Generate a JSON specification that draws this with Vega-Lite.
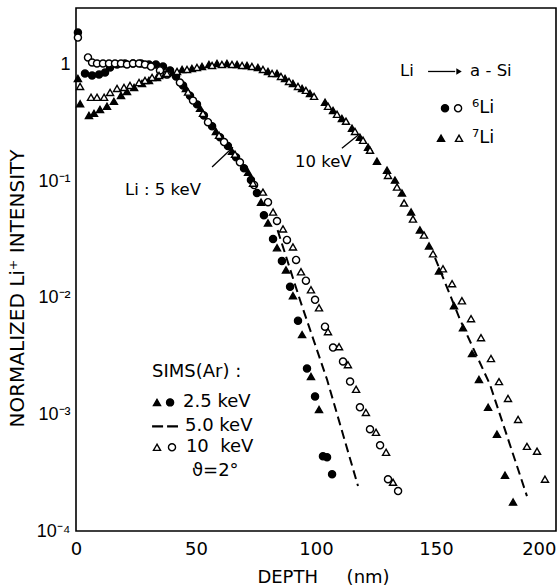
{
"$schema": "https://vega.github.io/schema/vega-lite/v6.json",
"width": 480, "height": 523,
"autosize": {"type": "none"},
"padding": {"left": 76, "top": 8, "right": 4, "bottom": 57},
"background": "white",
"config": {
 "view": {"stroke": "black", "strokeWidth": 1.6},
 "font": "DejaVu Sans",
 "axis": {"domain": false, "ticks": false, "labelColor": "black", "titleColor": "black", "grid": false, "labelFont": "DejaVu Sans", "titleFont": "DejaVu Sans", "titleFontWeight": "normal"}
},
"datasets": {
 "pts": [
  {"depth":0.8,"intensity":1.88,"marker":"fc"},{"depth":3.75,"intensity":0.838,"marker":"fc"},{"depth":6.7,"intensity":0.805,"marker":"fc"},{"depth":9.6,"intensity":0.822,"marker":"fc"},{"depth":12.1,"intensity":0.855,"marker":"fc"},{"depth":14.2,"intensity":0.942,"marker":"fc"},{"depth":17.1,"intensity":1.0,"marker":"fc"},{"depth":20.4,"intensity":1.02,"marker":"fc"},{"depth":23.75,"intensity":1.02,"marker":"fc"},{"depth":27.1,"intensity":1.02,"marker":"fc"},{"depth":30.4,"intensity":1.0,"marker":"fc"},{"depth":33.3,"intensity":1.0,"marker":"fc"},{"depth":36.25,"intensity":0.96,"marker":"fc"},{"depth":39.2,"intensity":0.89,"marker":"fc"},{"depth":41.7,"intensity":0.79,"marker":"fc"},{"depth":44.6,"intensity":0.66,"marker":"fc"},{"depth":47.5,"intensity":0.54,"marker":"fc"},{"depth":50.4,"intensity":0.455,"marker":"fc"},{"depth":53.3,"intensity":0.366,"marker":"fc"},{"depth":56.7,"intensity":0.295,"marker":"fc"},{"depth":60,"intensity":0.238,"marker":"fc"},{"depth":63.3,"intensity":0.2,"marker":"fc"},{"depth":66.7,"intensity":0.16,"marker":"fc"},{"depth":70,"intensity":0.129,"marker":"fc"},{"depth":72.9,"intensity":0.102,"marker":"fc"},{"depth":75.4,"intensity":0.079,"marker":"fc"},{"depth":78.3,"intensity":0.051,"marker":"fc"},{"depth":82.1,"intensity":0.0319,"marker":"fc"},{"depth":85.8,"intensity":0.0207,"marker":"fc"},{"depth":89.2,"intensity":0.0124,"marker":"fc"},{"depth":92.5,"intensity":0.00636,"marker":"fc"},{"depth":96.25,"intensity":0.00247,"marker":"fc"},{"depth":99.6,"intensity":0.001426,"marker":"fc"},{"depth":102.9,"intensity":0.000437,"marker":"fc"},{"depth":104.6,"intensity":0.000429,"marker":"fc"},{"depth":106.7,"intensity":0.000307,"marker":"fc"},
  {"depth":0.8,"intensity":0.76,"marker":"ft"},{"depth":45.8,"intensity":0.624,"marker":"ft"},{"depth":51.7,"intensity":0.421,"marker":"ft"},{"depth":58.3,"intensity":0.267,"marker":"ft"},{"depth":65,"intensity":0.18,"marker":"ft"},{"depth":71.7,"intensity":0.119,"marker":"ft"},{"depth":77.1,"intensity":0.066,"marker":"ft"},{"depth":80,"intensity":0.0438,"marker":"ft"},{"depth":83.75,"intensity":0.0268,"marker":"ft"},{"depth":87.5,"intensity":0.0173,"marker":"ft"},{"depth":90.4,"intensity":0.0104,"marker":"ft"},{"depth":94.2,"intensity":0.00483,"marker":"ft"},{"depth":97.9,"intensity":0.00211,"marker":"ft"},{"depth":101.25,"intensity":0.0011,"marker":"ft"},
  {"depth":1.7,"intensity":0.46,"marker":"ft"},{"depth":5.4,"intensity":0.366,"marker":"ft"},{"depth":7.5,"intensity":0.381,"marker":"ft"},{"depth":10,"intensity":0.412,"marker":"ft"},{"depth":12.9,"intensity":0.438,"marker":"ft"},{"depth":15.8,"intensity":0.483,"marker":"ft"},{"depth":18.75,"intensity":0.543,"marker":"ft"},{"depth":21.25,"intensity":0.588,"marker":"ft"},{"depth":24.2,"intensity":0.636,"marker":"ft"},{"depth":27.5,"intensity":0.688,"marker":"ft"},{"depth":30.4,"intensity":0.73,"marker":"ft"},{"depth":33.75,"intensity":0.774,"marker":"ft"},{"depth":37.1,"intensity":0.821,"marker":"ft"},{"depth":40,"intensity":0.855,"marker":"ft"},{"depth":44.2,"intensity":0.906,"marker":"ft"},{"depth":48.3,"intensity":0.924,"marker":"ft"},{"depth":52.5,"intensity":0.961,"marker":"ft"},{"depth":55.4,"intensity":1.0,"marker":"ft"},{"depth":58.75,"intensity":1.02,"marker":"ft"},{"depth":62.9,"intensity":1.02,"marker":"ft"},{"depth":67.1,"intensity":1.0,"marker":"ft"},{"depth":71.25,"intensity":0.98,"marker":"ft"},{"depth":75.8,"intensity":0.943,"marker":"ft"},{"depth":80,"intensity":0.871,"marker":"ft"},{"depth":83.75,"intensity":0.838,"marker":"ft"},{"depth":87.1,"intensity":0.76,"marker":"ft"},{"depth":90.4,"intensity":0.688,"marker":"ft"},{"depth":94.2,"intensity":0.624,"marker":"ft"},{"depth":97.5,"intensity":0.565,"marker":"ft"},{"depth":103.75,"intensity":0.474,"marker":"ft"},{"depth":107.1,"intensity":0.404,"marker":"ft"},{"depth":110.8,"intensity":0.345,"marker":"ft"},{"depth":115,"intensity":0.284,"marker":"ft"},{"depth":118.3,"intensity":0.238,"marker":"ft"},{"depth":121.7,"intensity":0.195,"marker":"ft"},{"depth":125.4,"intensity":0.148,"marker":"ft"},{"depth":129.6,"intensity":0.124,"marker":"ft"},{"depth":132.9,"intensity":0.102,"marker":"ft"},{"depth":135.8,"intensity":0.079,"marker":"ft"},{"depth":139.6,"intensity":0.0543,"marker":"ft"},{"depth":143.3,"intensity":0.0381,"marker":"ft"},{"depth":147.1,"intensity":0.0278,"marker":"ft"},{"depth":151.25,"intensity":0.017,"marker":"ft"},{"depth":157.5,"intensity":0.00855,"marker":"ft"},{"depth":161.25,"intensity":0.00554,"marker":"ft"},{"depth":165,"intensity":0.00332,"marker":"ft"},{"depth":167.9,"intensity":0.00199,"marker":"ft"},{"depth":171.7,"intensity":0.00115,"marker":"ft"},{"depth":175.4,"intensity":0.000675,"marker":"ft"},{"depth":178.75,"intensity":0.000301,"marker":"ft"},{"depth":182.1,"intensity":0.000177,"marker":"ft"},
  {"depth":0.8,"intensity":1.7,"marker":"oc"},{"depth":5,"intensity":1.15,"marker":"oc"},{"depth":6.7,"intensity":1.04,"marker":"oc"},{"depth":8.75,"intensity":1.02,"marker":"oc"},{"depth":11.25,"intensity":1.02,"marker":"oc"},{"depth":13.75,"intensity":1.02,"marker":"oc"},{"depth":16.25,"intensity":1.02,"marker":"oc"},{"depth":18.75,"intensity":1.02,"marker":"oc"},{"depth":21.25,"intensity":1.0,"marker":"oc"},{"depth":23.75,"intensity":1.02,"marker":"oc"},{"depth":26.25,"intensity":1.02,"marker":"oc"},{"depth":28.75,"intensity":1.0,"marker":"oc"},{"depth":31.25,"intensity":0.96,"marker":"oc"},{"depth":35,"intensity":0.89,"marker":"oc"},{"depth":37.9,"intensity":0.82,"marker":"oc"},{"depth":43.3,"intensity":0.7,"marker":"oc"},{"depth":48.75,"intensity":0.49,"marker":"oc"},{"depth":55,"intensity":0.32,"marker":"oc"},{"depth":61.7,"intensity":0.216,"marker":"oc"},{"depth":68.3,"intensity":0.145,"marker":"oc"},{"depth":74.2,"intensity":0.0925,"marker":"oc"},{"depth":80,"intensity":0.066,"marker":"oc"},{"depth":83.75,"intensity":0.0455,"marker":"oc"},{"depth":87.9,"intensity":0.0313,"marker":"oc"},{"depth":91.7,"intensity":0.0211,"marker":"oc"},{"depth":95.8,"intensity":0.014,"marker":"oc"},{"depth":99.6,"intensity":0.0096,"marker":"oc"},{"depth":103.75,"intensity":0.00565,"marker":"oc"},{"depth":107.1,"intensity":0.00374,"marker":"oc"},{"depth":111.25,"intensity":0.00284,"marker":"oc"},{"depth":114.2,"intensity":0.00191,"marker":"oc"},{"depth":118.3,"intensity":0.00115,"marker":"oc"},{"depth":122.5,"intensity":0.000745,"marker":"oc"},{"depth":126.7,"intensity":0.000543,"marker":"oc"},{"depth":130,"intensity":0.000278,"marker":"oc"},{"depth":134.2,"intensity":0.00022,"marker":"oc"},
  {"depth":46.7,"intensity":0.58,"marker":"ot"},{"depth":52.9,"intensity":0.381,"marker":"ot"},{"depth":59.6,"intensity":0.247,"marker":"ot"},{"depth":66.25,"intensity":0.17,"marker":"ot"},{"depth":73.75,"intensity":0.096,"marker":"ot"},{"depth":77.9,"intensity":0.0805,"marker":"ot"},{"depth":82.1,"intensity":0.0543,"marker":"ot"},{"depth":86.25,"intensity":0.0389,"marker":"ot"},{"depth":90.4,"intensity":0.0273,"marker":"ot"},{"depth":93.75,"intensity":0.0167,"marker":"ot"},{"depth":97.9,"intensity":0.0117,"marker":"ot"},{"depth":101.25,"intensity":0.0082,"marker":"ot"},{"depth":105,"intensity":0.00512,"marker":"ot"},{"depth":109.6,"intensity":0.00381,"marker":"ot"},{"depth":113.3,"intensity":0.00267,"marker":"ot"},{"depth":116.7,"intensity":0.00164,"marker":"ot"},{"depth":120.8,"intensity":0.00104,"marker":"ot"},{"depth":125,"intensity":0.000702,"marker":"ot"},{"depth":129.2,"intensity":0.000473,"marker":"ot"},{"depth":132.1,"intensity":0.000262,"marker":"ot"},
  {"depth":1.7,"intensity":0.649,"marker":"ot"},{"depth":6.25,"intensity":0.523,"marker":"ot"},{"depth":8.75,"intensity":0.523,"marker":"ot"},{"depth":11.7,"intensity":0.523,"marker":"ot"},{"depth":14.2,"intensity":0.576,"marker":"ot"},{"depth":17.1,"intensity":0.624,"marker":"ot"},{"depth":20,"intensity":0.636,"marker":"ot"},{"depth":22.5,"intensity":0.662,"marker":"ot"},{"depth":26.25,"intensity":0.7,"marker":"ot"},{"depth":28.75,"intensity":0.73,"marker":"ot"},{"depth":31.7,"intensity":0.774,"marker":"ot"},{"depth":34.6,"intensity":0.805,"marker":"ot"},{"depth":37.9,"intensity":0.838,"marker":"ot"},{"depth":42.1,"intensity":0.871,"marker":"ot"},{"depth":46.25,"intensity":0.906,"marker":"ot"},{"depth":50.4,"intensity":0.943,"marker":"ot"},{"depth":56.7,"intensity":0.98,"marker":"ot"},{"depth":60.8,"intensity":1.0,"marker":"ot"},{"depth":65,"intensity":1.0,"marker":"ot"},{"depth":69.2,"intensity":0.98,"marker":"ot"},{"depth":73.3,"intensity":0.961,"marker":"ot"},{"depth":77.9,"intensity":0.906,"marker":"ot"},{"depth":81.7,"intensity":0.838,"marker":"ot"},{"depth":85.4,"intensity":0.79,"marker":"ot"},{"depth":88.75,"intensity":0.716,"marker":"ot"},{"depth":92.5,"intensity":0.649,"marker":"ot"},{"depth":95.8,"intensity":0.6,"marker":"ot"},{"depth":99.2,"intensity":0.533,"marker":"ot"},{"depth":105,"intensity":0.438,"marker":"ot"},{"depth":108.75,"intensity":0.374,"marker":"ot"},{"depth":112.5,"intensity":0.326,"marker":"ot"},{"depth":116.25,"intensity":0.267,"marker":"ot"},{"depth":119.6,"intensity":0.224,"marker":"ot"},{"depth":122.5,"intensity":0.184,"marker":"ot"},{"depth":130,"intensity":0.112,"marker":"ot"},{"depth":133.75,"intensity":0.0889,"marker":"ot"},{"depth":136.7,"intensity":0.0649,"marker":"ot"},{"depth":140.4,"intensity":0.0473,"marker":"ot"},{"depth":145,"intensity":0.0345,"marker":"ot"},{"depth":148.75,"intensity":0.0238,"marker":"ot"},{"depth":152.9,"intensity":0.0177,"marker":"ot"},{"depth":156.7,"intensity":0.0132,"marker":"ot"},{"depth":160.8,"intensity":0.00942,"marker":"ot"},{"depth":164.6,"intensity":0.00662,"marker":"ot"},{"depth":168.75,"intensity":0.00455,"marker":"ot"},{"depth":172.9,"intensity":0.00301,"marker":"ot"},{"depth":176.25,"intensity":0.00191,"marker":"ot"},{"depth":180,"intensity":0.00137,"marker":"ot"},{"depth":184.2,"intensity":0.000906,"marker":"ot"},{"depth":187.9,"intensity":0.000532,"marker":"ot"},{"depth":192.1,"intensity":0.000483,"marker":"ot"},{"depth":195.4,"intensity":0.000278,"marker":"ot"},
  {"depth":153.75,"intensity":0.421,"marker":"fc"},{"depth":159.2,"intensity":0.421,"marker":"oc"},{"depth":152.1,"intensity":0.233,"marker":"ft"},{"depth":159.6,"intensity":0.233,"marker":"ot"},
  {"depth":33.75,"intensity":0.001267,"marker":"ft"},{"depth":39.2,"intensity":0.001267,"marker":"fc"},{"depth":33.75,"intensity":0.000522,"marker":"ot"},{"depth":40,"intensity":0.000522,"marker":"oc"}
 ],
 "lines": [
  {"depth":84,"intensity":0.038,"series":"5keV-left"},{"depth":93.3,"intensity":0.0096,"series":"5keV-left"},{"depth":104.6,"intensity":0.00199,"series":"5keV-left"},{"depth":117.5,"intensity":0.000243,"series":"5keV-left"},
  {"depth":149.6,"intensity":0.022,"series":"5keV-right"},{"depth":160,"intensity":0.0065,"series":"5keV-right"},{"depth":172.5,"intensity":0.0018,"series":"5keV-right"},{"depth":187.9,"intensity":0.000199,"series":"5keV-right"}
 ],
 "legdash": [
  {"depth":31.7,"intensity":0.000789},{"depth":42.5,"intensity":0.000789}
 ],
 "rules": [
  {"depth":56.7,"intensity":0.132,"depth2":65.4,"intensity2":0.195},
  {"depth":110.8,"intensity":0.191,"depth2":117.5,"intensity2":0.247},
  {"depth":146.7,"intensity":0.871,"depth2":158.0,"intensity2":0.871}
 ],
 "arrowhead": [{"depth":159.6,"intensity":0.871}],
 "txt18": [
  {"depth":31.7,"intensity":0.00233,"label":"SIMS(Ar) :"},
  {"depth":44.6,"intensity":0.001267,"label":"2.5 keV"},
  {"depth":45.4,"intensity":0.000789,"label":"5.0 keV"},
  {"depth":45.8,"intensity":0.000522,"label":"10\u00a0\u00a0keV"},
  {"depth":48.3,"intensity":0.000326,"label":"ϑ=2°"},
  {"depth":165,"intensity":0.421,"label":"⁶Li"},
  {"depth":165,"intensity":0.233,"label":"⁷Li"}
 ],
 "txt16": [
  {"depth":20.4,"intensity":0.0838,"label":"Li : 5 keV"},
  {"depth":91.25,"intensity":0.145,"label":"10 keV"},
  {"depth":135,"intensity":0.871,"label":"Li"},
  {"depth":164.2,"intensity":0.871,"label":"a - Si"}
 ]
},
"encoding": {
 "x": {"field": "depth", "type": "quantitative", "scale": {"domain": [0, 200], "nice": false, "zero": false}, "axis": null},
 "y": {"field": "intensity", "type": "quantitative", "scale": {"type": "log", "domain": [0.0001, 3.05], "nice": false}, "axis": null}
},
"layer": [
 {
  "data": {"name": "pts"},
  "mark": {"type": "point", "filled": true, "size": 50, "strokeWidth": 1.4, "opacity": 1},
  "encoding": {
   "x": {"field": "depth", "type": "quantitative", "scale": {"domain": [0, 200], "nice": false, "zero": false},
    "axis": {"orient": "bottom", "values": [0, 50, 100, 150, 200], "ticks": false, "labelPadding": 9, "labelFontSize": 18, "labelFlush": false, "labelOverlap": false,
     "labelAlign": {"condition": {"test": "datum.value == 200", "value": "right"}, "value": "center"},
     "title": "DEPTH\u00a0\u00a0\u00a0\u00a0\u00a0(nm)", "titleFontSize": 18, "titleX": 247, "titleY": 46, "titleBaseline": "middle", "titleAlign": "center"}},
   "y": {"field": "intensity", "type": "quantitative", "scale": {"type": "log", "domain": [0.0001, 3.05], "nice": false},
    "axis": {"orient": "left", "values": [0.0001, 0.001, 0.01, 0.1, 1], "ticks": false,
     "labelExpr": "datum.value == 1 ? '1' : datum.value == 0.1 ? '10⁻¹' : datum.value == 0.01 ? '10⁻²' : datum.value == 0.001 ? '10⁻³' : '10⁻⁴'",
     "labelFont": "Liberation Sans", "labelFontSize": 18, "labelPadding": 6, "labelOverlap": false, "labelFlush": false,
     "title": "NORMALIZED Li⁺ INTENSITY", "titleFontSize": 20, "titleX": -59, "titleY": 280, "titleAlign": "center", "titleBaseline": "middle", "titleAngle": 270}},
   "shape": {"field": "marker", "type": "nominal", "scale": {"domain": ["fc", "ft", "oc", "ot"], "range": ["circle", "triangle-up", "circle", "triangle-up"]}, "legend": null},
   "fill": {"field": "marker", "type": "nominal", "scale": {"domain": ["fc", "ft", "oc", "ot"], "range": ["black", "black", "white", "white"]}, "legend": null},
   "stroke": {"value": "black"}
  }
 },
 {
  "data": {"name": "lines"},
  "mark": {"type": "line", "strokeDash": [9, 5], "strokeWidth": 2, "color": "black"},
  "encoding": {"detail": {"field": "series", "type": "nominal"}}
 },
 {
  "data": {"name": "legdash"},
  "mark": {"type": "line", "strokeDash": [11, 4], "strokeWidth": 2.2, "color": "black"},
  "encoding": {}
 },
 {
  "data": {"name": "rules"},
  "mark": {"type": "rule", "strokeWidth": 1.3, "color": "black"},
  "encoding": {
   "x2": {"field": "depth2"},
   "y2": {"field": "intensity2"}
  }
 },
 {
  "data": {"name": "arrowhead"},
  "mark": {"type": "point", "shape": "triangle-right", "filled": true, "size": 40, "color": "black", "opacity": 1},
  "encoding": {}
 },
 {
  "data": {"name": "txt18"},
  "mark": {"type": "text", "align": "left", "baseline": "middle", "fontSize": 18, "font": "DejaVu Sans", "color": "black"},
  "encoding": {"text": {"field": "label"}}
 },
 {
  "data": {"name": "txt16"},
  "mark": {"type": "text", "align": "left", "baseline": "middle", "fontSize": 16.5, "font": "DejaVu Sans", "color": "black"},
  "encoding": {"text": {"field": "label"}}
 }
],
"resolve": {"axis": {"x": "independent", "y": "independent"}}
}
